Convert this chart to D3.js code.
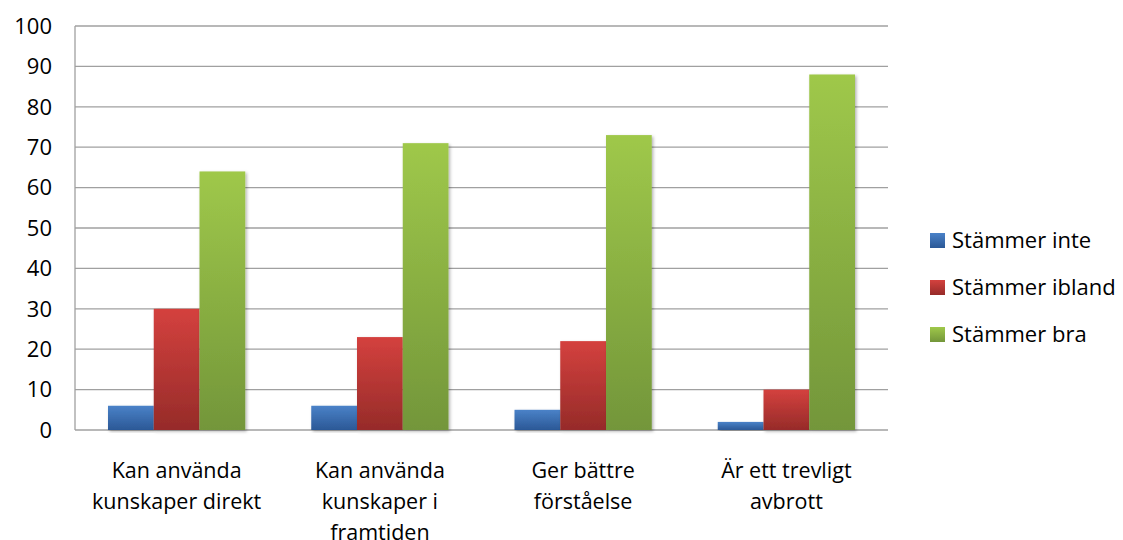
<!DOCTYPE html>
<html lang="sv">
<head>
<meta charset="utf-8">
<title>Stämmer</title>
<script src="https://d3js.org/d3.v7.min.js"></script>
<style>
  body { margin: 0; background: #fff; }
  svg text { font-family: "Open Sans", Lato, sans-serif; fill: #000; }
</style>
</head>
<body>
<div id="chart"></div>
<script>
// data
var categories = [
  ["Kan använda", "kunskaper direkt"],
  ["Kan använda", "kunskaper i", "framtiden"],
  ["Ger bättre", "förståelse"],
  ["Är ett trevligt", "avbrott"]
];
var seriesNames = ["Stämmer inte", "Stämmer ibland", "Stämmer bra"];
var stammerInte = [6, 6, 5, 2];
var stammerIbland = [30, 23, 22, 10];
var stammerBra = [64, 71, 73, 88];
var yTicks = [0, 10, 20, 30, 40, 50, 60, 70, 80, 90, 100];

var series = [stammerInte, stammerIbland, stammerBra];
var colors = [
  { top: "#4a82c8", bottom: "#2b5896" },
  { top: "#d4413e", bottom: "#962b29" },
  { top: "#9fc84a", bottom: "#73963a" }
];

var width = 1123, height = 540;
var margin = { left: 75, right: 235, top: 26, bottom: 110 };

var svg = d3.select("#chart").append("svg")
  .attr("width", width)
  .attr("height", height);

var defs = svg.append("defs");
colors.forEach(function(c, i) {
  var g = defs.append("linearGradient")
    .attr("id", "grad" + i)
    .attr("x1", 0).attr("y1", 0).attr("x2", 0).attr("y2", 1);
  g.append("stop").attr("offset", "0%").attr("stop-color", c.top);
  g.append("stop").attr("offset", "100%").attr("stop-color", c.bottom);
});
var shadow = defs.append("filter").attr("id", "shadow")
  .attr("x", "-20%").attr("y", "-5%").attr("width", "150%").attr("height", "115%");
shadow.append("feDropShadow")
  .attr("dx", 1.5).attr("dy", 1.5).attr("stdDeviation", 1.5)
  .attr("flood-color", "#000").attr("flood-opacity", 0.3);

var x0 = d3.scaleBand()
  .domain(d3.range(categories.length))
  .range([margin.left, width - margin.right])
  .padding(0);

var x1 = d3.scaleBand()
  .domain(d3.range(series.length))
  .range([33, x0.bandwidth() - 33])
  .padding(0);

var y = d3.scaleLinear()
  .domain([0, 100])
  .range([height - margin.bottom, margin.top]);

// gridlines
svg.append("g").selectAll("line")
  .data(yTicks)
  .enter().append("line")
  .attr("x1", margin.left)
  .attr("x2", width - margin.right)
  .attr("y1", function(d) { return y(d); })
  .attr("y2", function(d) { return y(d); })
  .style("stroke", "#a0a0a0")
  .style("stroke-width", 1.3);

// y axis line
svg.append("line")
  .attr("x1", margin.left).attr("x2", margin.left)
  .attr("y1", y(0)).attr("y2", y(100))
  .style("stroke", "#a0a0a0")
  .style("stroke-width", 1.3);

// y tick labels
svg.append("g").selectAll("text")
  .data(yTicks)
  .enter().append("text")
  .attr("x", 52)
  .attr("y", function(d) { return y(d); })
  .attr("dy", "0.35em")
  .attr("text-anchor", "end")
  .style("font-size", "22px")
  .text(function(d) { return d; });

// bars
var groups = svg.append("g").selectAll("g")
  .data(categories)
  .enter().append("g")
  .attr("transform", function(d, i) { return "translate(" + x0(i) + ",0)"; });

groups.selectAll("rect")
  .data(function(d, i) { return series.map(function(s, j) { return { s: j, v: s[i] }; }); })
  .enter().append("rect")
  .attr("x", function(d) { return x1(d.s); })
  .attr("width", x1.bandwidth())
  .attr("y", function(d) { return y(d.v); })
  .attr("height", function(d) { return y(0) - y(d.v); })
  .attr("fill", function(d) { return "url(#grad" + d.s + ")"; })
  .attr("filter", "url(#shadow)");

// category labels
var labels = svg.append("g").selectAll("text")
  .data(categories)
  .enter().append("text")
  .attr("text-anchor", "middle")
  .attr("x", function(d, i) { return x0(i) + x0.bandwidth() / 2; })
  .attr("y", 478)
  .style("font-size", "21.5px");
labels.selectAll("tspan")
  .data(function(d) { return d; })
  .enter().append("tspan")
  .attr("x", function() { return d3.select(this.parentNode).attr("x"); })
  .attr("dy", function(d, i) { return i === 0 ? 0 : 31; })
  .text(function(d) { return d; });

// legend
var legend = svg.append("g").selectAll("g")
  .data(seriesNames)
  .enter().append("g")
  .attr("transform", function(d, i) { return "translate(930," + (240 + i * 47) + ")"; });
legend.append("rect")
  .attr("x", 0).attr("y", -7)
  .attr("width", 15).attr("height", 15)
  .attr("fill", function(d, i) { return "url(#grad" + i + ")"; });
legend.append("text")
  .attr("x", 22)
  .attr("dy", "0.35em")
  .style("font-size", "22px")
  .text(function(d) { return d; });
</script>
</body>
</html>
